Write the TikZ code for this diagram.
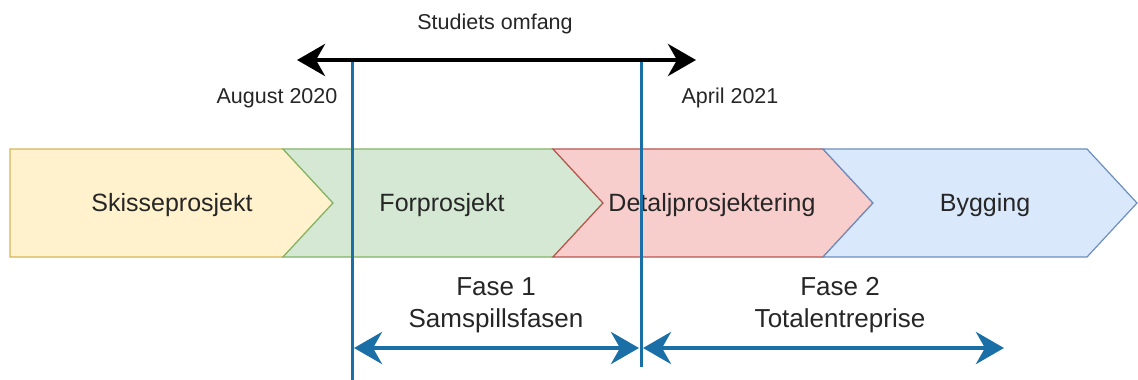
\documentclass[tikz,border=0pt]{standalone}
\usepackage{fontspec}
\setmainfont{Liberation Sans}
\usetikzlibrary{arrows.meta}
\definecolor{yfill}{HTML}{FFF2CC}\definecolor{ydraw}{HTML}{D6B656}
\definecolor{gfill}{HTML}{D5E8D4}\definecolor{gdraw}{HTML}{82B366}
\definecolor{rfill}{HTML}{F8CECC}\definecolor{rdraw}{HTML}{B85450}
\definecolor{bfill}{HTML}{DAE8FC}\definecolor{bdraw}{HTML}{6C8EBF}
\definecolor{lineblue}{HTML}{1A6FA6}
\begin{document}
\begin{tikzpicture}[x=1pt,y=-1pt,
  chev/.style={line width=1.2pt},
  chevlabel/.style={font=\fontsize{25}{30}\selectfont, text=black!85, inner sep=0pt},
  smalllabel/.style={font=\fontsize{21.5}{26}\selectfont, text=black!85, inner sep=0pt},
  faselabel/.style={font=\fontsize{26}{32}\selectfont, text=black!85, inner sep=0pt, align=center},
  bothtips/.style={{Stealth[length=28pt,width=32pt,inset=9pt]}-{Stealth[length=28pt,width=32pt,inset=9pt]}},
  vline/.style={draw=lineblue, line width=3pt},
  scopearrow/.style={bothtips, draw=black, line width=4.5pt},
  fasearrow/.style={bothtips, draw=lineblue, line width=4pt}
]
\useasboundingbox (0,0) rectangle (1138,380);
\fill[white] (0,0) rectangle (1138,380);

% chevrons
\draw[chev, fill=yfill, draw=ydraw] (10,149) -- (283,149) -- (333,203) -- (283,257) -- (10,257) -- cycle;
\draw[chev, fill=gfill, draw=gdraw] (283,149) -- (553,149) -- (603,203) -- (553,257) -- (283,257) -- (333,203) -- cycle;
\draw[chev, fill=rfill, draw=rdraw] (553,149) -- (823,149) -- (873,203) -- (823,257) -- (553,257) -- (603,203) -- cycle;
\draw[chev, fill=bfill, draw=bdraw] (823,149) -- (1087,149) -- (1137,203) -- (1087,257) -- (823,257) -- (873,203) -- cycle;

\node[chevlabel] (sk) at (172,205) {Skisseprosjekt};
\node[chevlabel] (fp) at (442,205) {Forprosjekt};
\node[chevlabel] (dp) at (712,205) {Detaljprosjektering};
\node[chevlabel] (by) at (985,205) {Bygging};

% top labels
\node[smalllabel] (so) at (495,24) {Studiets omfang};
\node[smalllabel] (aug) at (277,98) {August 2020};
\node[smalllabel] (apr) at (730,98) {April 2021};

% coordinates
\coordinate (sL) at (297,60);
\coordinate (sR) at (696,60);
\coordinate (v1t) at (352,62);
\coordinate (v1b) at (352,380);
\coordinate (v2t) at (641,62);
\coordinate (v2b) at (641,367);
\coordinate (f1L) at (354,348);
\coordinate (f1R) at (639,348);
\coordinate (f2L) at (643,348);
\coordinate (f2R) at (1004,348);

\draw[scopearrow] (sL) -- (sR);
\draw[vline] (v1t) -- (v1b);
\draw[vline] (v2t) -- (v2b);

\node[faselabel] (f1) at (496,305) {Fase 1\\Samspillsfasen};
\node[faselabel] (f2) at (840,305) {Fase 2\\Totalentreprise};

\draw[fasearrow] (f1L) -- (f1R);
\draw[fasearrow] (f2L) -- (f2R);
\end{tikzpicture}
\end{document}
